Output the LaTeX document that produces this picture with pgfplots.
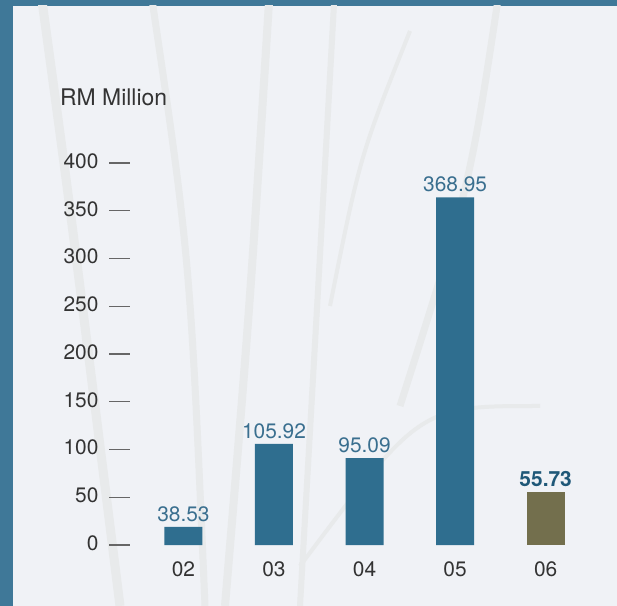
\documentclass[border=0pt]{standalone}
\usepackage{pgfplots}
\pgfplotsset{compat=1.18}
\usepackage{pgfplotstable}
\usepackage{fontspec}
\setmainfont{TeX Gyre Heros}

\definecolor{frame}{HTML}{3F7898}
\definecolor{panel}{HTML}{F0F2F6}
\definecolor{grass}{HTML}{E8EAEB}
\definecolor{barblue}{HTML}{2F6E8F}
\definecolor{olive}{HTML}{736F4D}
\definecolor{labblue}{HTML}{3A6F8F}
\definecolor{labdark}{HTML}{1F5878}
\definecolor{ink}{HTML}{333333}

% drawn bar heights (the 02 bar is drawn shorter than its label)
\pgfplotstableread{
x h lab
0 19 38.53
1 105.92 105.92
2 91 95.09
3 364 368.95
}\bluebars

\begin{document}
\begin{tikzpicture}
\useasboundingbox (0,0) rectangle (617bp,606bp);
\fill[frame] (0,0) rectangle (617bp,606bp);
\fill[panel] (13bp,0) rectangle (617bp,600bp);
% faint grass strokes
\begin{scope}[grass]
  \clip (13bp,0) rectangle (617bp,600bp);
  \draw[line width=9bp] (40bp,620bp) .. controls (70bp,400bp) .. (120bp,0);
  \draw[line width=7bp] (150bp,620bp) .. controls (190bp,350bp) .. (205bp,0);
  \draw[line width=8bp] (270bp,620bp) .. controls (250bp,300bp) .. (225bp,0);
  \draw[line width=6bp] (335bp,620bp) .. controls (320bp,350bp) .. (300bp,0);
  \draw[line width=4bp] (410bp,575bp) .. controls (360bp,450bp) .. (330bp,300bp);
  \draw[line width=7bp] (500bp,620bp) .. controls (470bp,420bp) .. (400bp,200bp);
  \draw[line width=4bp] (300bp,40bp) .. controls (420bp,200bp) .. (540bp,200bp);
\end{scope}
\node[anchor=base west, text=ink, font=\fontsize{23}{26}\selectfont, inner sep=0pt] at (60bp,500bp) {RM Million};
\begin{axis}[
  at={(130bp,61bp)}, anchor=south west,
  scale only axis, width=470bp, height=382bp,
  xmin=-0.59, xmax=4.6, ymin=0, ymax=400,
  axis line style={draw=none},
  clip=false,
  xtick={0,1,2,3,4}, xticklabels={02,03,04,05,06},
  xtick style={draw=none},
  ytick={0,50,...,400}, ytick pos=left,
  tick align=outside, major tick length=21bp,
  ytick style={draw=black!60, line width=1.4bp},
  y tick label style={text=ink, font=\fontsize{21}{24}\selectfont, xshift=-7bp, yshift=2bp},
  x tick label style={text=ink, font=\fontsize{21}{24}\selectfont, yshift=8bp},
  /pgf/number format/assume math mode=true,
  ybar, bar width=38bp, bar shift=0pt,
]
\addplot[fill=barblue, draw=none,
  point meta=explicit symbolic,
  nodes near coords,
  every node near coord/.append style={text=labblue, font=\fontsize{21}{24}\selectfont, inner sep=5bp}]
  table[x=x, y=h, meta=lab] {\bluebars};
\addplot[fill=olive, draw=none,
  point meta=explicit symbolic,
  nodes near coords,
  every node near coord/.append style={text=labdark, font=\bfseries\fontsize{21}{24}\selectfont, inner sep=5bp}]
  coordinates {(4,55.73) [55.73]};
\end{axis}
\end{tikzpicture}
\end{document}
